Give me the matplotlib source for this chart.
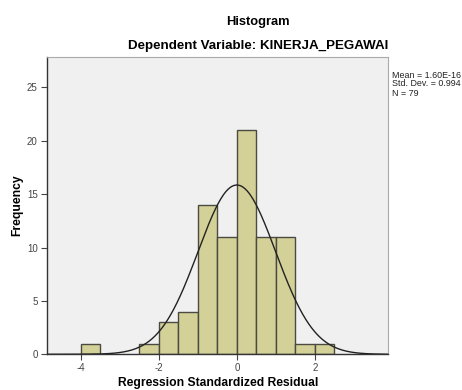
import numpy as np
import matplotlib
matplotlib.use("Agg")
import matplotlib.pyplot as plt

plt.rcParams['font.family'] = ['Liberation Sans', 'DejaVu Sans']

# Histogram bins (width 0.5) of the regression standardized residuals
bin_left = [-4.0, -2.5, -2.0, -1.5, -1.0, -0.5, 0.0, 0.5, 1.0, 1.5, 2.0]
counts = [1, 1, 3, 4, 14, 11, 21, 11, 11, 1, 1]
bin_width = 0.5

mean = 1.60e-16
std = 0.994
n = 79

x_ticks = [-4, -2, 0, 2]
y_ticks = [0, 5, 10, 15, 20, 25]

W, H = 462, 390
fig = plt.figure(figsize=(W / 100, H / 100), dpi=100)
ax = fig.add_axes([46.7 / W, 1 - 354.3 / H, (388.3 - 46.7) / W, (354.3 - 56.7) / H])
ax.set_facecolor('#F0F0F0')

ax.bar(bin_left, counts, width=bin_width, align='edge', color='#D3D098',
       edgecolor='#4A4A40', linewidth=1.0, zorder=2)

# Normal curve scaled to counts
xs = np.linspace(-4.87, 3.88, 400)
ys = n * bin_width * np.exp(-0.5 * ((xs - mean) / std) ** 2) / (std * np.sqrt(2 * np.pi))
ax.plot(xs, ys, color='#222222', linewidth=1.0, zorder=3)

ax.set_xlim(-4.87, 3.88)
ax.set_ylim(0, 27.87)
ax.set_xticks(x_ticks)
ax.set_xticklabels([str(t) for t in x_ticks])
ax.set_yticks(y_ticks)
ax.set_yticklabels([str(t) for t in y_ticks])
ax.tick_params(axis='both', labelsize=7, colors='#444444', length=4, width=0.8,
               direction='out', pad=2.5)

for side in ['top', 'right']:
    ax.spines[side].set_color('#AAAAAA')
    ax.spines[side].set_linewidth(0.8)
for side in ['left', 'bottom']:
    ax.spines[side].set_color('#333333')
    ax.spines[side].set_linewidth(1.0)

fig.text(218 / W, 1 - 383 / H, 'Regression Standardized Residual', ha='center',
         va='center', fontsize=8.7, fontweight='bold')
fig.text(17.5 / W, 1 - 205 / H, 'Frequency', ha='center', va='center', rotation=90,
         fontsize=8.7, fontweight='bold')

fig.text(258 / W, 1 - 22 / H, 'Histogram', ha='center', va='center',
         fontsize=9.3, fontweight='bold')
fig.text(258 / W, 1 - 46 / H, 'Dependent Variable: KINERJA_PEGAWAI', ha='center',
         va='center', fontsize=9.6, fontweight='bold')

stats = ['Mean = 1.60E-16', 'Std. Dev. = 0.994', 'N = 79']
for i, s in enumerate(stats):
    fig.text(392 / W, 1 - (75 + 9 * i) / H, s, ha='left', va='center',
             fontsize=6.4, color='#222222')

fig.savefig('out.png', dpi=100)
